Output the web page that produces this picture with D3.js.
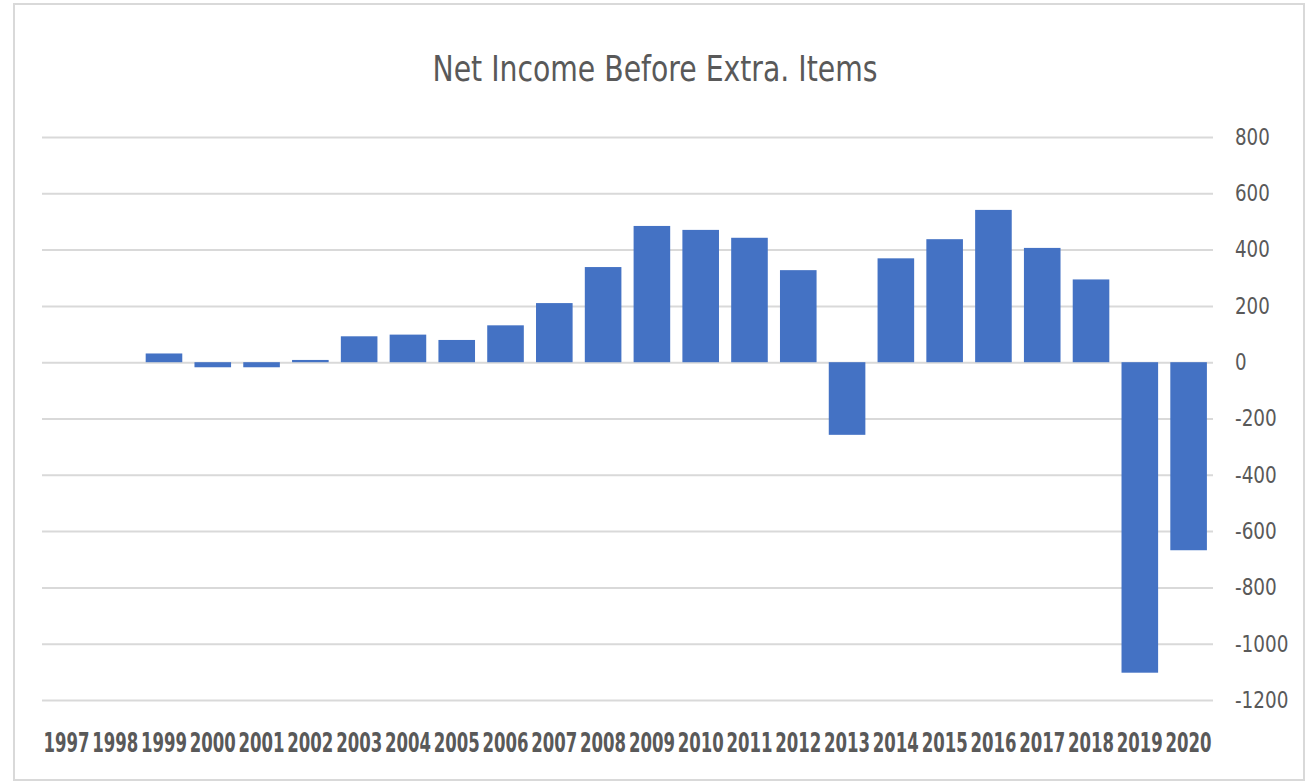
<!DOCTYPE html>
<html>
<head>
<meta charset="utf-8">
<script src="https://cdn.jsdelivr.net/npm/d3@7"></script>
<style>
  html, body { margin: 0; padding: 0; background: #ffffff; }
  svg { display: block; }
</style>
</head>
<body>
<svg id="chart" width="1306" height="783"></svg>
<script>
const title = "Net Income Before Extra. Items";
const years = ["1997","1998","1999","2000","2001","2002","2003","2004","2005","2006","2007","2008",
               "2009","2010","2011","2012","2013","2014","2015","2016","2017","2018","2019","2020"];
const netIncome = [0, 0, 31, -18, -18, 8, 92, 98, 79, 131, 210, 338,
                   484, 470, 442, 327, -258, 369, 437, 541, 406, 294, -1103, -668];
const yTicks = [800, 600, 400, 200, 0, -200, -400, -600, -800, -1000, -1200];

const svg = d3.select("#chart");
const plot = { left: 42, right: 1213, top: 137, bottom: 700 };
const fontNarrow = "'Liberation Sans Narrow', 'DejaVu Sans Condensed', 'Arial Narrow', sans-serif";

// squeeze a text element horizontally to a target width, anchored at (ax, ay)
function squeeze(sel, target, anchor) {
  sel.each(function(d) {
    const t = d3.select(this);
    const w = this.getComputedTextLength();
    const tw = typeof target === "function" ? target(d) : target;
    const sx = w > 0 ? Math.min(1, tw / w) : 1;
    const ax = +t.attr("x") || 0;
    const ay = +t.attr("y") || 0;
    t.attr("transform", `translate(${ax},${ay}) scale(${sx},1) translate(${-ax},${-ay})`);
  });
}

// Border
svg.append("rect")
  .attr("x", 14).attr("y", 4)
  .attr("width", 1290).attr("height", 776)
  .attr("fill", "#ffffff")
  .attr("stroke", "#d9d9d9").attr("stroke-width", 2);

const x = d3.scaleBand()
  .domain(years)
  .range([plot.left, plot.right])
  .paddingInner(0.25)
  .paddingOuter(0.125);

const y = d3.scaleLinear()
  .domain([-1200, 800])
  .range([plot.bottom, plot.top]);

// Gridlines + y labels via axis
const yAxis = d3.axisRight(y)
  .tickValues(yTicks)
  .tickSize(-(plot.right - plot.left))
  .tickPadding(22)
  .tickFormat(d => String(d));

const gy = svg.append("g")
  .attr("transform", `translate(${plot.right},0)`)
  .call(yAxis);
gy.select(".domain").remove();
gy.selectAll(".tick line")
  .attr("stroke", "#d9d9d9")
  .attr("stroke-width", 2);
gy.selectAll(".tick text")
  .attr("fill", "#595959")
  .attr("font-family", fontNarrow)
  .attr("font-size", 23)
  .attr("dy", "0.32em")
  .attr("text-anchor", "start")
  .call(squeeze, d => {
    const s = String(d);
    return s.replace("-", "").length * 11.6 + (s.startsWith("-") ? 7 : 0);
  });

// Bars
svg.append("g")
  .selectAll("rect")
  .data(years.map((yr, i) => ({ yr, v: netIncome[i] })))
  .join("rect")
  .attr("x", d => x(d.yr))
  .attr("width", x.bandwidth())
  .attr("y", d => y(Math.max(0, d.v)))
  .attr("height", d => Math.abs(y(d.v) - y(0)))
  .attr("fill", "#4472c4");

// X labels
const xAxis = d3.axisBottom(x).tickSize(0).tickPadding(0);
const gx = svg.append("g")
  .attr("transform", `translate(0,${plot.bottom})`)
  .call(xAxis);
gx.select(".domain").remove();
gx.selectAll(".tick text")
  .attr("fill", "#595959")
  .attr("font-family", fontNarrow)
  .attr("font-weight", "bold")
  .attr("font-size", 27)
  .attr("x", 0)
  .attr("y", 52)
  .attr("dy", 0)
  .call(squeeze, 46);

// Title
svg.append("text")
  .attr("x", 655)
  .attr("y", 81.5)
  .attr("text-anchor", "middle")
  .attr("fill", "#595959")
  .attr("font-family", fontNarrow)
  .attr("font-size", 36)
  .text(title)
  .call(squeeze, 445);
</script>
</body>
</html>
